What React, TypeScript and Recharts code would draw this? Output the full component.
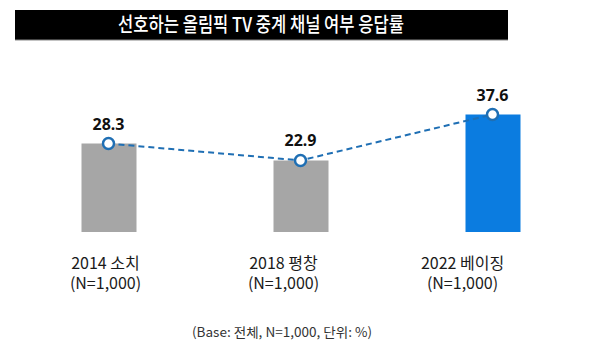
import { Bar, Cell, ComposedChart, LabelList, Line, XAxis, YAxis } from "recharts";

const categories = ["2014 소치", "2018 평창", "2022 베이징"];
const sampleLabels = ["(N=1,000)", "(N=1,000)", "(N=1,000)"];
const rates = [28.3, 22.9, 37.6];

const TITLE = "선호하는 올림픽 TV 중계 채널 여부 응답률";
const FOOTNOTE = "(Base: 전체, N=1,000, 단위: %)";

const BAR_COLORS = ["#a6a6a6", "#a6a6a6", "#0b7ce0"];
const LINE_COLOR = "#1f6fb4";
// 카테고리 라벨은 막대 중심보다 약간 왼쪽에 놓여 있음
const TICK_SHIFT = [-3, -17, -30];
const KR_FONT = "'Noto Sans CJK KR', 'Noto Sans', sans-serif";

const chartData = categories.map((name, i) => ({
  name,
  sub: sampleLabels[i],
  rate: rates[i],
}));

function CategoryTick(props: any) {
  const { x, y, payload } = props;
  const i = payload.index;
  return (
    <g transform={`translate(${x + TICK_SHIFT[i]},${y})`}>
      <text textAnchor="middle" fontFamily={KR_FONT} fontSize={16} fill="#1a1a1a">
        <tspan x={0} dy={29}>{chartData[i].name}</tspan>
        <tspan x={0} dy={20}>{chartData[i].sub}</tspan>
      </text>
    </g>
  );
}

export default function App() {
  return (
    <div
      style={{
        position: "fixed",
        left: 0,
        top: 0,
        width: 600,
        height: 351,
        background: "#fff",
      }}
    >
      <ComposedChart
        width={600}
        height={351}
        data={chartData}
        margin={{ top: 107, right: 11.5, bottom: 89, left: 12.5 }}
        barCategoryGap={0}
      >
        <XAxis
          dataKey="name"
          axisLine={false}
          tickLine={false}
          interval={0}
          tick={<CategoryTick />}
        />
        <YAxis hide domain={[0, 40]} />
        <Bar dataKey="rate" barSize={55} isAnimationActive={false}>
          {chartData.map((_, i) => (
            <Cell key={i} fill={BAR_COLORS[i]} />
          ))}
        </Bar>
        <Line
          type="linear"
          dataKey="rate"
          stroke={LINE_COLOR}
          strokeWidth={2}
          strokeDasharray="6 4"
          dot={{ r: 5.5, fill: "#fff", stroke: LINE_COLOR, strokeWidth: 2.5, strokeDasharray: "0" }}
          activeDot={false}
          isAnimationActive={false}
        >
          <LabelList
            dataKey="rate"
            position="top"
            offset={14}
            fill="#111"
            fontSize={16}
            fontWeight="bold"
            fontFamily="'Noto Sans', sans-serif"
          />
        </Line>
      </ComposedChart>

      <svg
        width={600}
        height={351}
        style={{ position: "absolute", left: 0, top: 0, pointerEvents: "none" }}
      >
        <rect x={15} y={10} width={493} height={30} fill="#000" />
        <line x1={15} x2={508} y1={40} y2={40} stroke="#888" strokeWidth={1} />
        <text
          x={118}
          y={32}
          textLength={286}
          lengthAdjust="spacingAndGlyphs"
          fontFamily={KR_FONT}
          fontWeight={500}
          fontSize={20}
          fill="#fff"
        >
          {TITLE}
        </text>
        <text
          x={282}
          y={337}
          textAnchor="middle"
          textLength={180}
          lengthAdjust="spacingAndGlyphs"
          fontFamily={KR_FONT}
          fontSize={13}
          fill="#333"
        >
          {FOOTNOTE}
        </text>
      </svg>
    </div>
  );
}
